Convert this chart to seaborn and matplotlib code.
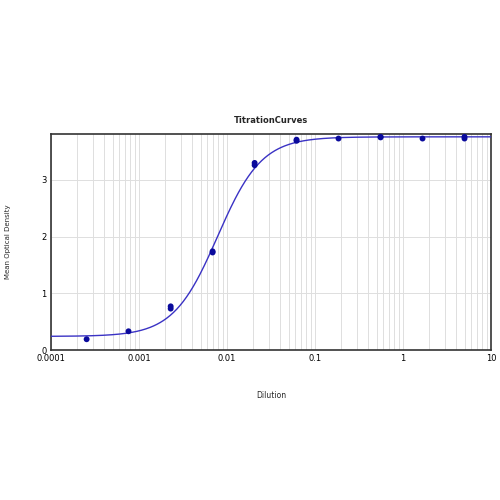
import matplotlib
matplotlib.use("Agg")
import matplotlib.pyplot as plt
import matplotlib.ticker as mticker
import numpy as np
import pandas as pd
import seaborn as sns

# dilution series (3-fold) and replicate optical densities
dilution = [2.54e-4, 7.6e-4, 2.29e-3, 2.29e-3, 6.86e-3, 6.86e-3, 0.0206, 0.0206,
            0.0617, 0.0617, 0.185, 0.556, 0.556, 1.667, 5.0, 5.0]
mean_od = [0.19, 0.33, 0.73, 0.77, 1.72, 1.74, 3.26, 3.30,
           3.69, 3.71, 3.73, 3.75, 3.76, 3.73, 3.73, 3.76]

# four-parameter logistic fit parameters (bottom, top, EC50, hill slope)
fit_bottom = 0.24
fit_top = 3.76
fit_ec50 = 0.0078
fit_hill = 1.73

x_ticks = [0.0001, 0.001, 0.01, 0.1, 1, 10]
x_tick_labels = ["0.0001", "0.001", "0.01", "0.1", "1", "10"]
y_ticks = [0, 1, 2, 3]


def four_pl(x):
    return fit_bottom + (fit_top - fit_bottom) / (1 + (fit_ec50 / x) ** fit_hill)


def titration_curve():
    sns.set_theme(style="white")
    fig = plt.figure(figsize=(5, 5), dpi=100)
    ax = fig.add_axes([0.102, 0.30, 0.880, 0.432])

    curve_x = np.logspace(-4, 1, 400)
    curve = pd.DataFrame({"Dilution": curve_x, "OD": four_pl(curve_x)})
    points = pd.DataFrame({"Dilution": dilution, "OD": mean_od})

    sns.lineplot(data=curve, x="Dilution", y="OD", ax=ax, color="#3a32c4",
                 linewidth=1.0, zorder=3)
    sns.scatterplot(data=points, x="Dilution", y="OD", ax=ax, color="#0a0a9c",
                    s=18, edgecolor="none", zorder=4)

    ax.set_xscale("log")
    ax.set_xlim(1e-4, 10)
    ax.set_ylim(0, 3.81)
    ax.set_xticks(x_ticks)
    ax.set_xticklabels(x_tick_labels)
    ax.set_yticks(y_ticks)
    ax.xaxis.set_minor_locator(mticker.LogLocator(base=10, subs=np.arange(2, 10)))
    ax.xaxis.set_minor_formatter(mticker.NullFormatter())

    ax.grid(True, which="both", axis="x", color="#dedede", linewidth=0.7)
    ax.grid(True, which="major", axis="y", color="#dedede", linewidth=0.7)
    ax.tick_params(axis="both", which="both", length=0, labelsize=6, pad=3,
                   colors="black")
    for spine in ax.spines.values():
        spine.set_color("#333333")
        spine.set_linewidth(1.2)

    ax.set_title("TitrationCurves", fontsize=6, fontweight="bold", pad=8)
    ax.set_xlabel("Dilution", fontsize=5.5, labelpad=20)
    ax.set_ylabel("Mean Optical Density", fontsize=5, labelpad=22)

    fig.savefig("out.png", dpi=100, facecolor="white")


if __name__ == "__main__":
    titration_curve()
